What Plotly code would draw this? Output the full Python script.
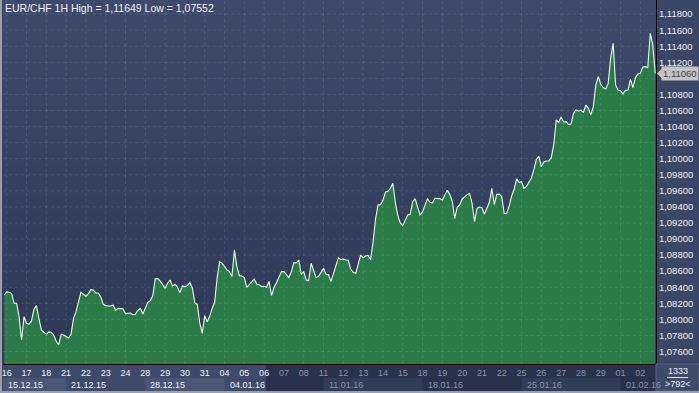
import plotly.graph_objects as go

# ---------------- data ----------------
TITLE = "EUR/CHF 1H High = 1,11649 Low = 1,07552"

# hourly-chart closes sampled every 3 hours; x is a trading-day index (16.12 = 0)
START_DAY = -0.125
STEP_DAYS = 0.125
PRICES = [
    1.08303, 1.08341, 1.08337, 1.08320, 1.08200, 1.08200, 1.08034, 1.07743, 1.08034, 1.07951,
    1.07938, 1.07980, 1.08125, 1.08171, 1.08013, 1.07868, 1.07839, 1.07814, 1.07843, 1.07839,
    1.07805, 1.07727, 1.07681, 1.07814, 1.07805, 1.07785, 1.07768, 1.07818, 1.08013, 1.08096,
    1.08200, 1.08337, 1.08312, 1.08287, 1.08320, 1.08370, 1.08366, 1.08328, 1.08328, 1.08279,
    1.08187, 1.08171, 1.08166, 1.08166, 1.08179, 1.08113, 1.08137, 1.08137, 1.08133, 1.08071,
    1.08071, 1.08079, 1.08059, 1.08063, 1.08113, 1.08137, 1.08067, 1.08146, 1.08212, 1.08233,
    1.08291, 1.08507, 1.08507, 1.08478, 1.08428, 1.08386, 1.08449, 1.08490,
    1.08415, 1.08436, 1.08403, 1.08332, 1.08415, 1.08407, 1.08420, 1.08457, 1.08391, 1.08208,
    1.08183, 1.07955, 1.07826, 1.08046, 1.07971, 1.08038, 1.08137, 1.08212, 1.08511, 1.08718,
    1.08698, 1.08656, 1.08615, 1.08594, 1.08532, 1.08864, 1.08656, 1.08544, 1.08540, 1.08519,
    1.08399, 1.08432, 1.08465, 1.08503, 1.08440, 1.08432, 1.08407, 1.08411, 1.08399, 1.08474,
    1.08295, 1.08399, 1.08457, 1.08523, 1.08594, 1.08594, 1.08552, 1.08519, 1.08594, 1.08706,
    1.08702, 1.08739, 1.08561, 1.08594, 1.08490, 1.08482, 1.08698, 1.08594, 1.08519, 1.08536,
    1.08581, 1.08635, 1.08561, 1.08557, 1.08469, 1.08561,
    1.08648, 1.08768, 1.08743, 1.08752, 1.08739, 1.08735, 1.08623, 1.08586, 1.08573, 1.08689,
    1.08801, 1.08768, 1.08789, 1.08797, 1.08743, 1.08959, 1.09246, 1.09424, 1.09428, 1.09482,
    1.09582, 1.09594, 1.09631, 1.09694, 1.09457, 1.09295, 1.09200, 1.09167, 1.09229, 1.09299,
    1.09308, 1.09465, 1.09503, 1.09407, 1.09295, 1.09341, 1.09436, 1.09503, 1.09457, 1.09449,
    1.09507, 1.09503, 1.09503, 1.09486, 1.09540, 1.09607, 1.09553, 1.09474, 1.09258, 1.09395,
    1.09424, 1.09499, 1.09524, 1.09553, 1.09569, 1.09445, 1.09216, 1.09382, 1.09399, 1.09391,
    1.09308, 1.09382, 1.09457, 1.09631, 1.09432,
    1.09557, 1.09561, 1.09528, 1.09316, 1.09320, 1.09411, 1.09536, 1.09619, 1.09748, 1.09706,
    1.09714, 1.09631, 1.09656, 1.09710, 1.09760, 1.09868, 1.09993, 1.10030, 1.09901, 1.09959,
    1.09972, 1.09972, 1.10013, 1.10171, 1.10482, 1.10453, 1.10520, 1.10457, 1.10461, 1.10424,
    1.10432, 1.10565, 1.10607, 1.10594, 1.10603, 1.10578, 1.10669, 1.10627, 1.10544, 1.10648,
    1.10918, 1.11026, 1.10926, 1.10885, 1.10868, 1.10935, 1.11250, 1.11437, 1.10918, 1.10856,
    1.10847, 1.10806, 1.10852, 1.10856, 1.10989, 1.10885, 1.11009, 1.11055, 1.11063, 1.11142,
    1.11146, 1.11134, 1.11560, 1.11424, 1.11060,
]
CURRENT_PRICE = 1.11060
CURRENT_LABEL = "1,11060"

DAY_LABELS = ["16", "17", "18", "21", "22", "23", "24", "28", "29", "30", "31",
              "04", "05", "06", "07", "08", "11", "12", "13", "14", "15",
              "18", "19", "20", "21", "22", "25", "26", "27", "28", "29", "01", "02"]
WEEK_LABELS = ["15.12.15", "21.12.15", "28.12.15", "04.01.16",
               "11.01.16", "18.01.16", "25.01.16", "01.02.16"]
WEEK_START_DAY = [None, 3, 7, 11, 16, 21, 26, 31]   # None = left edge of view

Y_TICK_VALUES = [1.076, 1.078, 1.080, 1.082, 1.084, 1.086, 1.088, 1.090, 1.092, 1.094, 1.096,
                 1.098, 1.100, 1.102, 1.104, 1.106, 1.108, 1.110, 1.112, 1.114, 1.116, 1.118]
Y_TICK_LABELS = ["1,07600", "1,07800", "1,08000", "1,08200", "1,08400", "1,08600", "1,08800",
                 "1,09000", "1,09200", "1,09400", "1,09600", "1,09800", "1,10000", "1,10200",
                 "1,10400", "1,10600", "1,10800", "1,11000", "1,11200", "1,11400", "1,11600",
                 "1,11800"]
COUNTER_TOP = "1333"
COUNTER_BOTTOM = ">792<"

X_RANGE = [-0.187, 32.79]
Y_RANGE = [1.07444, 1.11976]

# ---------------- layout constants ----------------
W, H = 699, 393
ML, MR, MT, MB = 3, 43, 0, 29
PW, PH = W - ML - MR, H - MT - MB
FONT = "Liberation Sans, Arial, sans-serif"
LIGHT_TEXT = "#eef0f5"
DIM_TEXT = "#8a93a8"
SPLIT_PAPER = (266 - ML) / PW          # end of the highlighted (lighter) strip
LIGHT_DAY_LIMIT = 13                   # last day index inside the lighter strip

def px_x(p):   # pixel offset (relative to plot left) -> paper
    return p / PW

def px_y(p):   # pixel offset below the plot bottom -> paper (negative)
    return -p / PH

xs = [START_DAY + STEP_DAYS * i for i in range(len(PRICES))]

fig = go.Figure()
fig.add_trace(go.Scatter(
    x=xs, y=PRICES, mode="lines",
    line=dict(color="#e9fde4", width=1.1),
    fill="tozeroy", fillcolor="#2b7b48",
    hoverinfo="skip",
))

shapes = []
# background gradient of the plot area
top = (62, 74, 108)
bot = (45, 56, 86)
N = 24
for k in range(N):
    t = (k + 0.5) / N
    c = tuple(round(bot[j] + (top[j] - bot[j]) * t) for j in range(3))
    shapes.append(dict(type="rect", xref="paper", yref="paper", x0=0, x1=1,
                       y0=k / N, y1=(k + 1) / N, layer="below",
                       fillcolor="rgb(%d,%d,%d)" % c, line=dict(width=0)))

# dashed grid drawn above the area fill
grid_line = dict(color="rgba(255,255,255,0.11)", width=1, dash="3px,3px")
for d in range(len(DAY_LABELS)):
    shapes.append(dict(type="line", xref="x", yref="paper", x0=d, x1=d, y0=0, y1=1,
                       layer="above", line=grid_line))
for v in Y_TICK_VALUES:
    shapes.append(dict(type="line", xref="paper", yref="y", x0=0, x1=1, y0=v, y1=v,
                       layer="above", line=grid_line))

# bottom time-axis strip
shapes.append(dict(type="rect", xref="paper", yref="paper", x0=0, x1=SPLIT_PAPER,
                   y0=px_y(27), y1=0, fillcolor="#3e4a6a", line=dict(width=0), layer="below"))
shapes.append(dict(type="rect", xref="paper", yref="paper", x0=SPLIT_PAPER, x1=1,
                   y0=px_y(27), y1=0, fillcolor="#28324a", line=dict(width=0), layer="below"))
# alternating week boxes in the lower row
week_edges = [X_RANGE[0] if s is None else s for s in WEEK_START_DAY] + [X_RANGE[1]]
for k in range(len(WEEK_LABELS)):
    if k % 2 == 0:
        in_light = week_edges[k + 1] <= LIGHT_DAY_LIMIT
        shapes.append(dict(type="rect", xref="x", yref="paper",
                           x0=week_edges[k], x1=week_edges[k + 1],
                           y0=px_y(27), y1=px_y(14),
                           fillcolor="#4a5676" if in_light else "#313c56",
                           line=dict(width=0), layer="below"))
# bottom-right counter box
shapes.append(dict(type="rect", xref="paper", yref="paper", x0=1, x1=1 + px_x(MR),
                   y0=px_y(27), y1=0, fillcolor="#3e4a6a",
                   line=dict(color="#56627f", width=1)))
shapes.append(dict(type="line", xref="paper", yref="paper", x0=1 + px_x(11), x1=1 + px_x(32),
                   y0=px_y(13.5), y1=px_y(13.5), line=dict(color="#dfe3ec", width=1)))
# outer light frame (left and bottom)
shapes.append(dict(type="rect", xref="paper", yref="paper", x0=px_x(-3), x1=px_x(-1),
                   y0=px_y(29), y1=1, fillcolor="#9a9fab", line=dict(width=0)))
shapes.append(dict(type="rect", xref="paper", yref="paper", x0=px_x(-3), x1=1 + px_x(MR),
                   y0=px_y(29), y1=px_y(27), fillcolor="#9a9fab", line=dict(width=0)))
# current price pointer
shapes.append(dict(type="path", xref="paper", yref="y", xsizemode="pixel", ysizemode="pixel",
                   xanchor=1, yanchor=CURRENT_PRICE, path="M 1,0 L 6,5 L 6,-5 Z",
                   fillcolor="#c4c4c4", line=dict(width=0)))

annotations = [
    dict(text=TITLE, xref="paper", yref="paper", x=0, y=1, xanchor="left", yanchor="top",
         xshift=0, yshift=0, showarrow=False, font=dict(family=FONT, size=10.5, color=LIGHT_TEXT)),
    dict(text=CURRENT_LABEL, xref="paper", yref="y", x=1, y=CURRENT_PRICE, xanchor="left",
         yanchor="middle", xshift=5, showarrow=False, bgcolor="#c4c4c4", borderpad=1,
         font=dict(family=FONT, size=9.5, color="#444444")),
    dict(text=COUNTER_TOP, xref="paper", yref="paper", x=1 + px_x(MR / 2), y=px_y(7),
         xanchor="center", yanchor="middle", showarrow=False,
         font=dict(family=FONT, size=9, color=LIGHT_TEXT)),
    dict(text=COUNTER_BOTTOM, xref="paper", yref="paper", x=1 + px_x(MR / 2), y=px_y(20),
         xanchor="center", yanchor="middle", showarrow=False,
         font=dict(family=FONT, size=9, color=LIGHT_TEXT)),
]
for k, lab in enumerate(WEEK_LABELS):
    start = week_edges[k]
    col = LIGHT_TEXT if start < LIGHT_DAY_LIMIT else DIM_TEXT
    annotations.append(dict(text=lab, xref="x", yref="paper", x=start, y=px_y(20.5),
                            xanchor="left", yanchor="middle", xshift=3, showarrow=False,
                            font=dict(family=FONT, size=9, color=col)))

tick_text = [lab if d <= LIGHT_DAY_LIMIT else '<span style="color:%s">%s</span>' % (DIM_TEXT, lab)
             for d, lab in enumerate(DAY_LABELS)]
# the current-price marker covers the price-axis label right under it
y_tick_text = ["" if abs(v - CURRENT_PRICE) < 0.0012 else lab
               for v, lab in zip(Y_TICK_VALUES, Y_TICK_LABELS)]

fig.update_layout(
    width=W, height=H,
    margin=dict(l=ML, r=MR, t=MT, b=MB, pad=0),
    paper_bgcolor="#3a4666",
    plot_bgcolor="#36425f",
    showlegend=False,
    font=dict(family=FONT, size=9, color=LIGHT_TEXT),
    shapes=shapes,
    annotations=annotations,
    xaxis=dict(range=X_RANGE, tickmode="array", tickvals=list(range(len(DAY_LABELS))),
               ticktext=tick_text, showgrid=False, zeroline=False, showline=True,
               linecolor="#000000", linewidth=1, ticks="", tickfont=dict(size=9),
               fixedrange=True),
    yaxis=dict(range=Y_RANGE, side="right", tickmode="array", tickvals=Y_TICK_VALUES,
               ticktext=y_tick_text, showgrid=False, zeroline=False, showline=True,
               linecolor="#000000", linewidth=1, ticks="", tickfont=dict(size=9.5),
               fixedrange=True),
)

fig.write_html("out.html")
